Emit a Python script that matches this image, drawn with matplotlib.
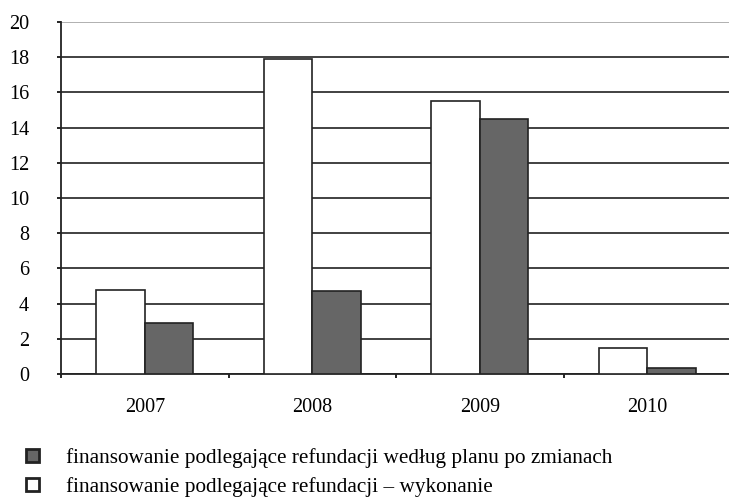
import matplotlib.pyplot as plt
import numpy as np

# data
years = ['2007', '2008', '2009', '2010']
wykonanie = [4.75, 17.9, 15.5, 1.45]
plan_po_zmianach = [2.9, 4.7, 14.5, 0.35]

label_plan = 'finansowanie podlegające refundacji według planu po zmianach'
label_wyk = 'finansowanie podlegające refundacji – wykonanie'

plt.rcParams['font.family'] = ['Liberation Serif', 'DejaVu Serif']

fig = plt.figure(figsize=(7.29, 5.00), dpi=100)
ax = fig.add_axes([0.0837, 0.252, 0.9193, 0.704])

x = np.arange(len(years))
w = 0.29
b_wyk = ax.bar(x - w / 2, wykonanie, w, color='white', edgecolor='#222222',
               linewidth=1.2, zorder=3, label=label_wyk)
b_plan = ax.bar(x + w / 2, plan_po_zmianach, w, color='#666666', edgecolor='#222222',
                linewidth=1.2, zorder=3, label=label_plan)

ax.set_xlim(-0.5, len(years) - 0.5)
ax.set_ylim(0, 20)
ax.set_yticks(np.arange(0, 21, 2))
ax.set_xticks(x)
ax.set_xticklabels(years)
ax.set_xticks(np.arange(-0.5, len(years), 1), minor=True)

ax.yaxis.grid(True, color='#333333', linewidth=1.3, zorder=0)
ax.set_axisbelow(True)
gl = ax.get_ygridlines()
gl[-1].set_color('#aaaaaa')

for s in ['top', 'right']:
    ax.spines[s].set_visible(False)
ax.spines['left'].set_color('#222222')
ax.spines['bottom'].set_color('#222222')
ax.spines['left'].set_linewidth(1.3)
ax.spines['bottom'].set_linewidth(1.3)

ax.tick_params(axis='y', length=3, width=1.2, labelsize=14.5, pad=20)
ax.tick_params(axis='x', which='major', length=0, labelsize=14.5, pad=17)
ax.tick_params(axis='x', which='minor', length=3, width=1.2)

leg = fig.legend(handles=[b_plan, b_wyk], labels=[label_plan, label_wyk],
                 loc='upper left', bbox_to_anchor=(0.0357, 0.104), frameon=False,
                 fontsize=15.3, handlelength=0.6, handleheight=0.6, handletextpad=1.3,
                 labelspacing=0.42, borderpad=0, borderaxespad=0)
for h in leg.legend_handles:
    h.set_linewidth(2)

plt.savefig('out.png', dpi=100)
